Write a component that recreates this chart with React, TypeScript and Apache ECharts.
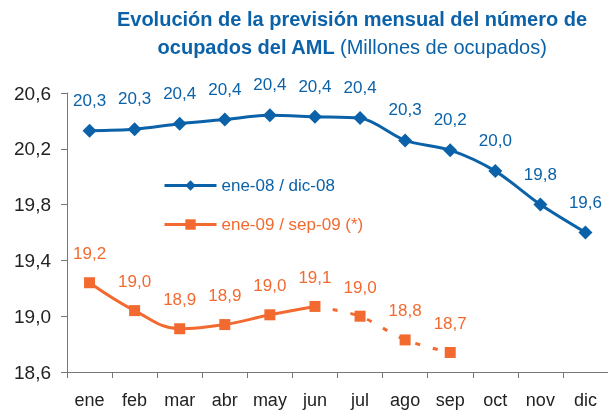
import React, { useEffect, useRef } from "react";
import * as echarts from "echarts";

const months = ["ene", "feb", "mar", "abr", "may", "jun", "jul", "ago", "sep", "oct", "nov", "dic"];
const serie2008 = [20.33, 20.34, 20.38, 20.41, 20.44, 20.43, 20.42, 20.26, 20.19, 20.04, 19.8, 19.6];
const serie2009Real = [19.24, 19.04, 18.91, 18.94, 19.01, 19.07];
const serie2009Prev = [19.07, 19.0, 18.83, 18.74];
const yTicks = { min: 18.6, max: 20.6, interval: 0.4 };

const BLUE = "#0b62a8";
const ORANGE = "#f26a30";
const FONT = "'Liberation Sans', Arial, sans-serif";

const fmt = (v: number) => v.toFixed(1).replace(".", ",");

export default function App() {
  const ref = useRef<HTMLDivElement>(null);
  useEffect(() => {
    if (!ref.current) return;
    const chart = echarts.init(ref.current, undefined, { renderer: "svg" });
    const startPrev = serie2009Real.length - 1;
    const prevData: any[] = months.map(() => null);
    serie2009Prev.forEach((v, i) => {
      prevData[startPrev + i] = i === 0 ? { value: v, symbol: "none", label: { show: false } } : v;
    });
    const label = (color: string) => ({
      show: true,
      position: "top",
      distance: 15,
      color,
      fontSize: 17,
      fontFamily: FONT,
      formatter: (p: any) => fmt(p.value),
    });
    chart.setOption({
      animation: false,
      textStyle: { fontFamily: FONT },
      title: {
        left: 347,
        top: 0,
        textAlign: "center",
        text: "{b|Evolución de la previsión mensual del número de}\n{b|ocupados del AML} {n|(Millones de ocupados)}",
        textStyle: {
          rich: {
            b: { fontSize: 20, fontWeight: "bold", color: BLUE, fontFamily: FONT, lineHeight: 28 },
            n: { fontSize: 20, fontWeight: "normal", color: BLUE, fontFamily: FONT, lineHeight: 28 },
          },
        },
      },
      legend: {
        orient: "vertical",
        left: 158,
        top: 172,
        itemGap: 22,
        itemWidth: 52,
        itemHeight: 13,
        lineStyle: { width: 3 },
        data: [
          { name: "ene-08 / dic-08", textStyle: { color: BLUE } },
          { name: "ene-09 / sep-09 (*)", textStyle: { color: ORANGE } },
        ],
        textStyle: { fontSize: 17, fontFamily: FONT },
      },
      grid: { left: 67, right: 0, top: 93, bottom: 42 },
      xAxis: {
        type: "category",
        data: months,
        boundaryGap: true,
        axisLine: { lineStyle: { color: "#777", width: 1 } },
        axisTick: { show: true, length: 6, inside: false, lineStyle: { color: "#777" } },
        axisLabel: { color: "#222", fontSize: 18, margin: 19, fontFamily: FONT },
      },
      yAxis: {
        type: "value",
        min: yTicks.min,
        max: yTicks.max,
        interval: yTicks.interval,
        splitLine: { show: false },
        axisLine: { show: true, lineStyle: { color: "#777", width: 1 } },
        axisTick: { show: true, length: 6, lineStyle: { color: "#777" } },
        axisLabel: { color: "#222", fontSize: 19, margin: 16, fontFamily: FONT, formatter: (v: number) => fmt(v) },
      },
      series: [
        {
          name: "ene-08 / dic-08",
          type: "line",
          data: serie2008,
          smooth: 0.3,
          symbol: "diamond",
          symbolSize: [14, 14],
          itemStyle: { color: BLUE },
          lineStyle: { color: BLUE, width: 3 },
          label: label(BLUE),
        },
        {
          name: "ene-09 / sep-09 (*)",
          type: "line",
          data: serie2009Real,
          smooth: 0.4,
          symbol: "rect",
          symbolSize: 11,
          itemStyle: { color: ORANGE },
          lineStyle: { color: ORANGE, width: 3 },
          label: label(ORANGE),
        },
        {
          name: "prev",
          type: "line",
          data: prevData,
          smooth: 0.3,
          symbol: "rect",
          symbolSize: 11,
          itemStyle: { color: ORANGE },
          lineStyle: { color: ORANGE, width: 3, type: [5, 13] },
          label: label(ORANGE),
        },
      ],
    });
    return () => chart.dispose();
  }, []);
  return <div ref={ref} style={{ position: "fixed", left: 0, top: 0, width: 608, height: 414 }} />;
}
